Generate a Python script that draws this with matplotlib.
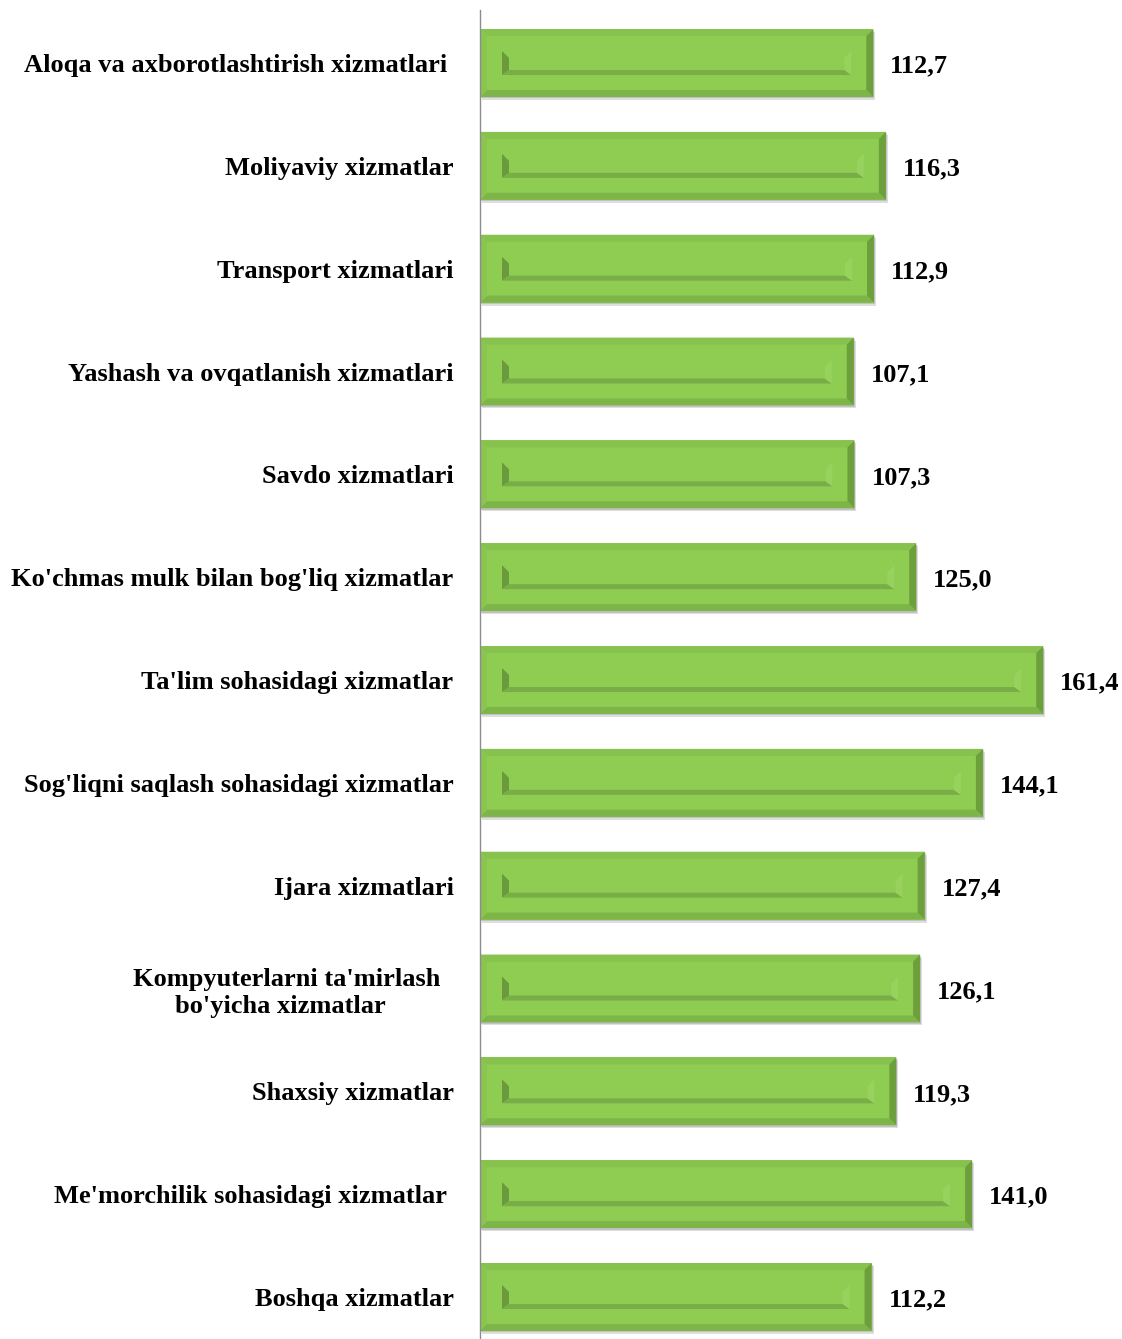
import matplotlib
matplotlib.use("Agg")
import matplotlib.pyplot as plt
from matplotlib.patches import Polygon, Rectangle
import numpy as np

categories = [
    "Aloqa va axborotlashtirish xizmatlari ",
    "Moliyaviy xizmatlar",
    "Transport xizmatlari",
    "Yashash va ovqatlanish xizmatlari",
    "Savdo xizmatlari",
    "Ko'chmas mulk bilan bog'liq xizmatlar",
    "Ta'lim sohasidagi xizmatlar",
    "Sog'liqni saqlash sohasidagi xizmatlar",
    "Ijara xizmatlari",
    "Kompyuterlarni ta'mirlash  \nbo'yicha xizmatlar    ",
    "Shaxsiy xizmatlar",
    "Me'morchilik sohasidagi xizmatlar ",
    "Boshqa xizmatlar",
]
values = [112.7, 116.3, 112.9, 107.1, 107.3, 125.0, 161.4, 144.1, 127.4, 126.1, 119.3, 141.0, 112.2]
value_labels = ["112,7", "116,3", "112,9", "107,1", "107,3", "125,0", "161,4",
                "144,1", "127,4", "126,1", "119,3", "141,0", "112,2"]

W, H = 1122, 1339
fig = plt.figure(figsize=(W / 100, H / 100), dpi=100)
ax_left = 480
ax_top = 10
ax = fig.add_axes([ax_left / W, 0, 1 - ax_left / W, 1 - ax_top / H])

PXX = 3.49     # pixels per data unit (x)
PXY = 102.8    # pixels per category (y)
ax.set_xlim(0, (W - ax_left) / PXX)
ax.set_ylim(12 + 42 / PXY, -53 / PXY)

ypos = np.arange(len(values))
bar_h = 0.66
face = "#8FCC52"
bars = ax.barh(ypos, values, height=bar_h, color=face, zorder=3, linewidth=0)

dx = 1 / PXX
dy = 1 / PXY
b = 7  # bevel px
for rect in bars:
    x0 = rect.get_x()
    x1 = x0 + rect.get_width()
    yt = rect.get_y()
    yb = yt + rect.get_height()
    yc = (yt + yb) / 2
    bx, by = b * dx, b * dy
    # drop shadow
    ax.add_patch(Rectangle((x0 + 2 * dx, yt + 3 * dy), x1 - x0, yb - yt,
                           color="#c8c8c8", alpha=0.6, zorder=2, lw=0))
    ax.add_patch(Rectangle((x0 + 1 * dx, yt + 1.5 * dy), x1 - x0, yb - yt,
                           color="#a8a8a8", alpha=0.5, zorder=2, lw=0))
    # bevels
    ax.add_patch(Polygon([(x0, yt), (x1, yt), (x1 - bx, yt + by), (x0 + bx, yt + by)],
                         closed=True, color="#86C24D", zorder=4, lw=0))
    ax.add_patch(Polygon([(x0, yb), (x1, yb), (x1 - bx, yb - by), (x0 + bx, yb - by)],
                         closed=True, color="#7DB548", zorder=4, lw=0))
    ax.add_patch(Polygon([(x0, yt), (x0 + bx, yt + by), (x0 + bx, yb - by), (x0, yb)],
                         closed=True, color="#89C54F", zorder=4, lw=0))
    ax.add_patch(Polygon([(x1, yt), (x1 - bx, yt + by), (x1 - bx, yb - by), (x1, yb)],
                         closed=True, color="#6E9F3D", zorder=4, lw=0))
    # inner recessed strip
    ix0 = x0 + 22 * dx
    ix1 = x1 - 22 * dx
    iyt = yc - 12 * dy
    iyb = yc + 12 * dy
    w = 7
    ax.add_patch(Polygon([(ix0, iyt), (ix0 + w * dx, iyt + w * dy), (ix0 + w * dx, iyb - 5 * dy), (ix0, iyb)],
                         closed=True, color="#6A9A3C", zorder=5, lw=0))
    ax.add_patch(Polygon([(ix0, iyb), (ix0 + w * dx, iyb - 5 * dy), (ix1 - w * dx, iyb - 5 * dy), (ix1, iyb)],
                         closed=True, color="#78AD47", zorder=5, lw=0))
    ax.add_patch(Polygon([(ix1, iyt), (ix1 - w * dx, iyt + w * dy), (ix1 - w * dx, iyb - 5 * dy), (ix1, iyb)],
                         closed=True, color="#96D25D", zorder=5, lw=0))

serif = ["Liberation Serif", "DejaVu Serif"]
for rect, lab in zip(bars, value_labels):
    ax.text(rect.get_width() + 17 * dx, rect.get_y() + rect.get_height() / 2 + 3 * dy, lab,
            ha="left", va="center", fontsize=19, fontweight="bold", family=serif,
            color="black", zorder=6)

ax.set_yticks(ypos)
ax.set_yticklabels(categories, fontsize=19, fontweight="bold", family=serif,
                   multialignment="center", linespacing=1.2)
ax.tick_params(axis="y", length=0, pad=19)
ax.tick_params(axis="x", length=0, labelbottom=False)
for s in ["top", "right", "bottom"]:
    ax.spines[s].set_visible(False)
ax.spines["left"].set_color("#8c8c8c")
ax.spines["left"].set_linewidth(1.0)
ax.spines["left"].set_zorder(7)

fig.savefig("out.png", dpi=100)
